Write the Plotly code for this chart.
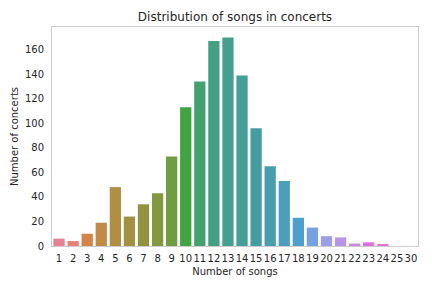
import math
import colorsys
import plotly.graph_objects as go

songs = ["1", "2", "3", "4", "5", "6", "7", "8", "9", "10", "11", "12", "13",
         "14", "15", "16", "17", "18", "19", "20", "21", "22", "23", "24", "25", "30"]
concerts = [6, 4, 10, 19, 48, 24, 34, 43, 73, 113, 134, 167, 170,
            139, 96, 65, 53, 23, 15, 8, 7, 2, 3, 1, 0, 0]

# --- seaborn-like husl palette (desaturated 0.75) ---
M = [[3.2406, -1.5372, -0.4986], [-0.9689, 1.8758, 0.0415], [0.0557, -0.2040, 1.0570]]
refU, refV = 0.19783000664283, 0.46831999493879
kappa, eps = 903.2962962, 0.0088564516


def max_chroma(L, H):
    hr = math.radians(H)
    sh, ch = math.sin(hr), math.cos(hr)
    sub1 = (L + 16) ** 3 / 1560896.0
    sub2 = sub1 if sub1 > eps else L / kappa
    res = float("inf")
    for m1, m2, m3 in M:
        top = (0.99915 * m1 + 1.05122 * m2 + 1.14460 * m3) * sub2
        rb = 0.86330 * m3 - 0.17266 * m2
        lb = 0.12949 * m3 - 0.38848 * m1
        bottom = (rb * sh + lb * ch) * sub2
        for t in (0.0, 1.0):
            C = L * (top - 1.05122 * t) / (bottom + 0.17266 * sh * t)
            if 0 < C < res:
                res = C
    return res


def f_inv(t):
    return t ** 3 if t ** 3 > eps else (116 * t - 16) / kappa


def from_linear(c):
    return 12.92 * c if c <= 0.0031308 else 1.055 * c ** (1 / 2.4) - 0.055


def husl_to_rgb(h, s, l):
    C = max_chroma(l, h) / 100 * s
    hr = math.radians(h)
    U, V = math.cos(hr) * C, math.sin(hr) * C
    Y = f_inv((l + 16) / 116)
    vu = U / (13 * l) + refU
    vv = V / (13 * l) + refV
    X = -(9 * Y * vu) / ((vu - 4) * vv - vu * vv)
    Z = (9 * Y - 15 * vv * Y - vv * X) / (3 * vv)
    rgb = [from_linear(r[0] * X + r[1] * Y + r[2] * Z) for r in M]
    return [min(max(c, 0), 1) for c in rgb]


def palette(n):
    cols = []
    for i in range(n):
        h = ((i / n) + 0.01) % 1 * 359
        r, g, b = husl_to_rgb(h, 0.9 * 99, 0.65 * 99)
        hh, ll, ss = colorsys.rgb_to_hls(r, g, b)
        r, g, b = colorsys.hls_to_rgb(hh, ll, ss * 0.75)
        cols.append("rgb(%d,%d,%d)" % (round(r * 255), round(g * 255), round(b * 255)))
    return cols


colors = palette(len(songs))

fig = go.Figure(go.Bar(x=songs, y=concerts, marker=dict(color=colors, line=dict(width=0)),
                       width=0.8))

font = "DejaVu Sans"
fig.update_layout(
    width=432, height=288,
    margin=dict(l=52, r=14, t=27, b=42, autoexpand=False),
    paper_bgcolor="white", plot_bgcolor="white",
    font=dict(family=font, size=10, color="#262626"),
    title=dict(text="Distribution of songs in concerts", x=235 / 432, xanchor="center",
               y=1 - 17 / 288, yanchor="middle", font=dict(size=12, color="#262626")),
    showlegend=False,
    bargap=0.2,
)
fig.update_xaxes(type="category", range=[-0.5, len(songs) - 0.5], showgrid=False,
                 showline=True, linecolor="#cccccc", linewidth=1, mirror=True,
                 ticks="outside", ticklen=3, tickcolor="rgba(0,0,0,0)",
                 tickangle=0, automargin=False,
                 tickfont=dict(size=10),
                 title=dict(text="Number of songs", font=dict(size=10), standoff=4))
fig.update_yaxes(range=[0, 178.5], showgrid=False, zeroline=False,
                 showline=True, linecolor="#cccccc", linewidth=1, mirror=True,
                 tickvals=[0, 20, 40, 60, 80, 100, 120, 140, 160],
                 ticks="outside", ticklen=5, tickcolor="rgba(0,0,0,0)",
                 automargin=False,
                 tickfont=dict(size=10),
                 title=dict(text="Number of concerts", font=dict(size=10), standoff=4))

fig.write_html("out.html",
               config={"displayModeBar": False},
               post_script="document.body.style.margin='0';document.body.style.padding='0';")
